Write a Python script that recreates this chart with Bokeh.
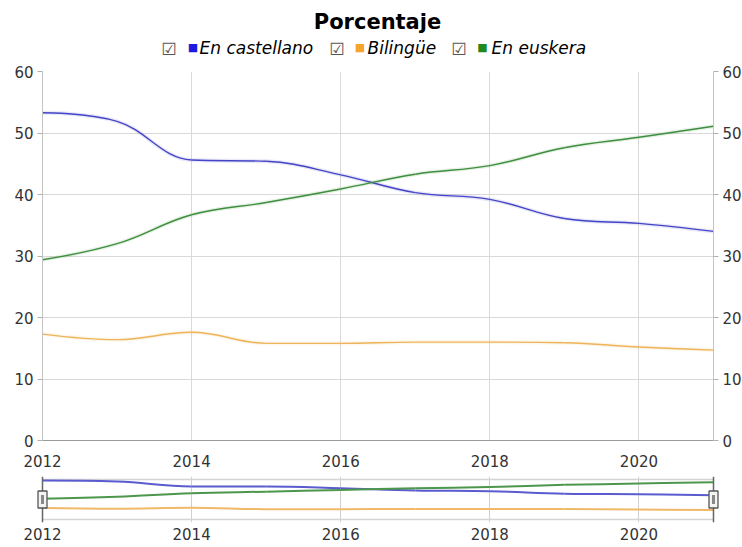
from bokeh.plotting import figure
from bokeh.models import Range1d, LinearAxis, FixedTicker, ColumnDataSource
from bokeh.layouts import column
from bokeh.embed import file_html
from bokeh.resources import INLINE
from bokeh.core.properties import value

# ---------------- data ----------------
years = [2012, 2013, 2014, 2015, 2016, 2017, 2018, 2019, 2020, 2021]
castellano = [53.3, 51.9, 45.6, 45.4, 43.2, 40.3, 39.2, 36.1, 35.3, 34.0]
bilingue = [17.3, 16.4, 17.6, 15.8, 15.8, 16.0, 16.0, 15.9, 15.2, 14.7]
euskera = [29.4, 32.0, 36.7, 38.7, 40.9, 43.3, 44.7, 47.6, 49.3, 51.1]
series_names = ["En castellano", "Bilingüe", "En euskera"]
subtitle = "Porcentaje"
y_ticks = [0, 10, 20, 30, 40, 50, 60]
x_ticks = [2012, 2014, 2016, 2018, 2020]

# ---------------- style ----------------
FONT = "DejaVu Sans"
line_colors = ["#4444c6", "#edb45a", "#3d8e3d"]
nav_colors = ["#5b5bd0", "#f0b968", "#4c974c"]
legend_colors = ["#1c1ce0", "#f5a52a", "#1e8a1e"]
GRID = "#d9d9d9"
LABEL = "#333333"
W = 742
LEFT = 42
FRAME_W = 671
PX_PER_YEAR = FRAME_W / (years[-1] - years[0])
NAV_PAD_PX = 8


def spline(xs, ys, smoothing=1.5):
    n = len(xs)
    left = [(xs[i], ys[i]) for i in range(n)]
    right = [(xs[i], ys[i]) for i in range(n)]
    denom = smoothing + 1
    for i in range(1, n - 1):
        px, py = xs[i], ys[i]
        lx, ly = xs[i - 1], ys[i - 1]
        nx, ny = xs[i + 1], ys[i + 1]
        lcx = (smoothing * px + lx) / denom
        lcy = (smoothing * py + ly) / denom
        rcx = (smoothing * px + nx) / denom
        rcy = (smoothing * py + ny) / denom
        if rcx != lcx:
            corr = ((rcy - lcy) * (rcx - px)) / (rcx - lcx) + py - rcy
            lcy += corr
            rcy += corr
        if lcy > ly and lcy > py:
            lcy = max(ly, py); rcy = 2 * py - lcy
        elif lcy < ly and lcy < py:
            lcy = min(ly, py); rcy = 2 * py - lcy
        if rcy > ny and rcy > py:
            rcy = max(ny, py); lcy = 2 * py - rcy
        elif rcy < ny and rcy < py:
            rcy = min(ny, py); lcy = 2 * py - rcy
        left[i] = (lcx, lcy)
        right[i] = (rcx, rcy)
    return ColumnDataSource(dict(
        x0=xs[:-1], y0=ys[:-1], x1=xs[1:], y1=ys[1:],
        cx0=[right[i][0] for i in range(n - 1)], cy0=[right[i][1] for i in range(n - 1)],
        cx1=[left[i + 1][0] for i in range(n - 1)], cy1=[left[i + 1][1] for i in range(n - 1)],
    ))


all_series = [castellano, bilingue, euskera]

# ---------------- header (subtitle + legend) ----------------
HDR_H = 60
hdr = figure(width=W, height=HDR_H, x_range=Range1d(0, W), y_range=Range1d(HDR_H, 0),
             output_backend="svg", toolbar_location=None, min_border=0)
hdr.frame_align = False
hdr.axis.visible = False
hdr.grid.visible = False
hdr.outline_line_color = None
hdr.text(x=[377], y=[21], text=[subtitle], text_font=value(FONT),
         text_font_size="21px", text_font_style="bold", text_color="#000000",
         text_align="center", text_baseline="middle")
box_x = [168.5, 336.5, 458.5]
sq_x = [192.5, 359.5, 482.0]
txt_x = [199.0, 367.0, 491.0]
LEG_Y = 47
hdr.text(x=box_x, y=[LEG_Y + 1] * 3, text=["☑"] * 3, text_font=value(FONT),
         text_font_size="17px", text_color="#555555", text_align="center", text_baseline="middle")
hdr.text(x=sq_x, y=[LEG_Y] * 3, text=["■"] * 3, text_font=value(FONT),
         text_font_size="11px", text_color=legend_colors, text_align="center", text_baseline="middle")
hdr.text(x=txt_x, y=[LEG_Y] * 3, text=series_names, text_font=value(FONT),
         text_font_size="17px", text_font_style="italic", text_color="#000000",
         text_align="left", text_baseline="middle")

# ---------------- main chart ----------------
p = figure(frame_width=FRAME_W, frame_height=369, x_range=Range1d(years[0], years[-1]),
           y_range=Range1d(y_ticks[0], y_ticks[-1]), output_backend="svg", toolbar_location=None,
           min_border_left=LEFT, min_border_top=11, min_border_right=0, min_border_bottom=36)
p.frame_align = False
p.outline_line_color = None
p.yaxis.visible = False
right_ax = LinearAxis()
p.add_layout(right_ax, "right")
left_ax = LinearAxis()
p.add_layout(left_ax, "left")
for ax in (left_ax, right_ax):
    ax.ticker = FixedTicker(ticks=y_ticks)
    ax.axis_line_color = "#c4c4c4"
    ax.major_tick_line_color = "#b0b0b0"
    ax.major_tick_out = 5
    ax.major_tick_in = 0
    ax.minor_tick_line_color = None
    ax.major_label_text_font = FONT
    ax.major_label_text_font_size = "15px"
    ax.major_label_text_color = LABEL
    ax.major_label_standoff = 4
p.xaxis.ticker = FixedTicker(ticks=x_ticks)
p.xaxis.axis_line_color = "#9a9a9a"
p.xaxis.major_tick_line_color = None
p.xaxis.minor_tick_line_color = None
p.xaxis.major_tick_out = 0
p.xaxis.major_label_standoff = 14
p.xaxis.major_label_text_font = FONT
p.xaxis.major_label_text_font_size = "15px"
p.xaxis.major_label_text_color = LABEL
p.xgrid.ticker = FixedTicker(ticks=x_ticks)
p.ygrid.ticker = FixedTicker(ticks=y_ticks)
p.grid.grid_line_color = GRID

for ys, col in zip(all_series, line_colors):
    src = spline(years, ys)
    p.bezier(x0="x0", y0="y0", x1="x1", y1="y1", cx0="cx0", cy0="cy0", cx1="cx1", cy1="cy1",
             source=src, line_color=col, line_width=4, line_alpha=0.12)
    p.bezier(x0="x0", y0="y0", x1="x1", y1="y1", cx0="cx0", cy0="cy0", cx1="cx1", cy1="cy1",
             source=src, line_color=col, line_width=1.4)

# ---------------- navigator ----------------
pad = NAV_PAD_PX / PX_PER_YEAR
lo = min(min(s) for s in all_series)
hi = max(max(s) for s in all_series)
unit = (hi - lo) / 29.5  # data units per nav pixel
nav_top = hi + 4 * unit
nav_bot = nav_top - 46 * unit
box_top = hi + 1 * unit
box_bot = hi - 39 * unit
nav = figure(frame_width=FRAME_W + 2 * NAV_PAD_PX, frame_height=46,
             x_range=Range1d(years[0] - pad, years[-1] + pad), y_range=Range1d(nav_bot, nav_top),
             output_backend="svg", toolbar_location=None,
             min_border_left=LEFT - NAV_PAD_PX, min_border_top=0, min_border_right=0, min_border_bottom=0)
nav.frame_align = False
nav.outline_line_color = None
nav.yaxis.visible = False
nav.ygrid.visible = False
nav.xgrid.ticker = FixedTicker(ticks=x_ticks[1:])
nav.xgrid.grid_line_color = "#cfcfcf"
nav.xaxis.ticker = FixedTicker(ticks=x_ticks)
nav.xaxis.axis_line_color = None
nav.xaxis.major_tick_line_color = None
nav.xaxis.minor_tick_line_color = None
nav.xaxis.major_tick_out = 0
nav.xaxis.major_label_standoff = 5
nav.xaxis.major_label_text_font = FONT
nav.xaxis.major_label_text_font_size = "15px"
nav.xaxis.major_label_text_color = LABEL

nav.segment(x0=[years[0], years[0]], y0=[box_top, box_bot], x1=[years[-1], years[-1]],
            y1=[box_top, box_bot], line_color="#d4d4d4", line_width=1.5)
for ys, col in zip(all_series, nav_colors):
    src = spline(years, ys)
    nav.bezier(x0="x0", y0="y0", x1="x1", y1="y1", cx0="cx0", cy0="cy0", cx1="cx1", cy1="cy1",
               source=src, line_color=col, line_width=2)

ends = [years[0], years[-1]]
mid = (box_top + box_bot) / 2
nav.segment(x0=ends, y0=[nav_bot] * 2, x1=ends, y1=[nav_top] * 2, line_color="#666666", line_width=1.5)
nav.rect(x=ends, y=[mid] * 2, width=9, height=17, width_units="screen", height_units="screen",
         fill_color="#f4f4f4", line_color="#555555", line_width=1.3)
nav.rect(x=ends, y=[mid] * 2, width=3, height=9, width_units="screen", height_units="screen",
         fill_color="#888888", line_color=None)

layout = column(hdr, p, nav, spacing=0)
open("out.html", "w").write(file_html(layout, INLINE))
